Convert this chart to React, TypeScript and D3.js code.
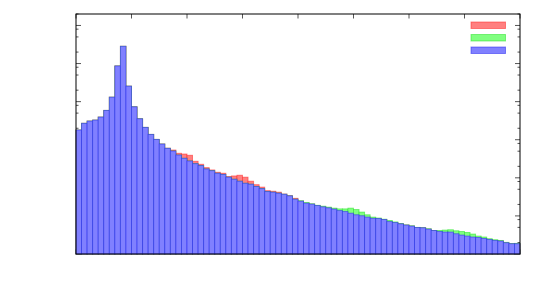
import React, { useEffect, useRef } from "react";
import * as d3 from "d3";

// 80 bins, three overlaid histograms (blue drawn on top)
const blueCounts = [
  1800, 2700, 3090, 3280, 3930, 5890, 13100, 86500, 284000, 25500,
  7310, 3550, 2110, 1380, 1020, 771, 595, 506, 397, 326,
  277, 235, 209, 171, 154, 132, 123, 104, 92, 81.5,
  72, 68, 59, 52, 43.5, 42, 39.5, 37, 33.6, 27.5,
  24.4, 21.6, 20.4, 18.7, 17.3, 16.3, 15.1, 13.8, 13, 11.8,
  10.7, 10.1, 9.3, 8.65, 8.55, 8.05, 7.1, 6.7, 6.2, 5.75,
  5.4, 4.97, 4.88, 4.5, 4.15, 3.9, 3.77, 3.77, 3.4, 3.14,
  2.96, 2.79, 2.72, 2.56, 2.41, 2.27, 2.19, 1.98, 1.86, 1.86,
];

const redCounts = [
  1800, 2700, 3090, 3280, 3930, 5890, 13100, 86500, 284000, 25500,
  7310, 3550, 2110, 1380, 1020, 771, 600, 537, 441, 422,
  391, 272, 227, 185, 161, 140, 132, 108, 112, 117,
  104, 81.5, 66, 57, 46, 44.5, 42, 37.5, 34, 29,
  24.4, 21.6, 20.4, 18.7, 17.3, 16.3, 15.1, 13.8, 13, 11.8,
  10.7, 10.1, 9.3, 8.65, 8.55, 8.05, 7.1, 6.7, 6.2, 5.75,
  5.4, 4.97, 4.88, 4.5, 4.15, 3.9, 3.77, 3.77, 3.4, 3.14,
  2.96, 2.79, 2.72, 2.56, 2.41, 2.27, 2.19, 1.98, 1.86, 1.86,
];

const greenCounts = [
  1800, 2700, 3090, 3280, 3930, 5890, 13100, 86500, 284000, 25500,
  7310, 3550, 2110, 1380, 1020, 771, 595, 506, 397, 326,
  277, 235, 209, 171, 154, 132, 123, 104, 92, 81.5,
  72, 68, 59, 52, 43.5, 42, 39.5, 37, 33.6, 27.5,
  25, 22.5, 20.8, 19, 18, 17, 16, 15.3, 15.3, 16,
  14.7, 12.6, 10.7, 9.3, 8.8, 8.2, 7.6, 6.95, 6.3, 5.8,
  5.5, 5.0, 4.9, 4.6, 4.15, 4.15, 4.25, 4.33, 4.07, 3.9,
  3.68, 3.34, 2.96, 2.79, 2.52, 2.37, 2.27, 2.02, 1.88, 1.9,
];

const series = [
  { name: "red", values: redCounts, fill: "#ff8080", stroke: "#ff2020" },
  { name: "green", values: greenCounts, fill: "#80ff80", stroke: "#20e020" },
  { name: "blue", values: blueCounts, fill: "#8080ff", stroke: "#2020f0" },
];

const xTicks = [0, 10, 20, 30, 40, 50, 60, 70, 80];

function App() {
  const ref = useRef<SVGSVGElement | null>(null);

  useEffect(() => {
    const svg = d3.select(ref.current);
    svg.selectAll("*").remove();

    const margin = { top: 14, right: 23, bottom: 41, left: 76 };
    const width = 543 - margin.left - margin.right;
    const height = 295 - margin.top - margin.bottom;

    const g = svg
      .append("g")
      .attr("transform", `translate(${margin.left},${margin.top})`);

    const x = d3.scaleLinear().domain([0, 80]).range([0, width]);
    const y = d3.scaleLog().domain([1, 2e6]).range([height, 0]);

    // y ticks: decades plus 2, 5, 8
    const majors = d3.range(0, 7).map((p) => Math.pow(10, p));
    const minors: number[] = [];
    majors.forEach((m) => {
      [2, 5, 8].forEach((k) => {
        if (m * k <= 2e6) minors.push(m * k);
      });
    });

    const tickColor = "#555";
    const ticks = g.append("g");
    majors.forEach((v) => {
      ticks.append("line").attr("x1", 0).attr("x2", 5).attr("y1", y(v)).attr("y2", y(v))
        .attr("stroke", tickColor);
      ticks.append("line").attr("x1", width).attr("x2", width - 5).attr("y1", y(v)).attr("y2", y(v))
        .attr("stroke", tickColor);
    });
    minors.forEach((v) => {
      ticks.append("line").attr("x1", 0).attr("x2", 2.5).attr("y1", y(v)).attr("y2", y(v))
        .attr("stroke", tickColor);
      ticks.append("line").attr("x1", width).attr("x2", width - 2.5).attr("y1", y(v)).attr("y2", y(v))
        .attr("stroke", tickColor);
    });
    xTicks.forEach((t) => {
      ticks.append("line").attr("x1", x(t)).attr("x2", x(t)).attr("y1", 0).attr("y2", 4.5)
        .attr("stroke", tickColor);
      ticks.append("line").attr("x1", x(t)).attr("x2", x(t)).attr("y1", height).attr("y2", height - 4.5)
        .attr("stroke", tickColor);
    });

    series.forEach((s) => {
      g.append("g")
        .selectAll("rect")
        .data(s.values)
        .enter()
        .append("rect")
        .attr("x", (d, i) => x(i))
        .attr("y", (d) => y(d))
        .attr("width", (d, i) => x(i + 1) - x(i))
        .attr("height", (d) => y(1) - y(d))
        .attr("fill", s.fill)
        .attr("stroke", s.stroke)
        .attr("stroke-opacity", 0.55)
        .attr("stroke-width", 0.9);
    });

    // frame
    g.append("rect")
      .attr("x", 0)
      .attr("y", 0)
      .attr("width", width)
      .attr("height", height)
      .attr("fill", "none")
      .attr("stroke", "#000")
      .attr("stroke-width", 1);

    // legend samples (no labels)
    const legend = svg.append("g").attr("transform", "translate(471,22)");
    series.forEach((s, i) => {
      legend
        .append("rect")
        .attr("x", 0)
        .attr("y", i * 12.5)
        .attr("width", 34.5)
        .attr("height", 6.5)
        .attr("fill", s.fill)
        .attr("stroke", s.stroke)
        .attr("stroke-opacity", 0.5);
    });
  }, []);

  return (
    <svg
      ref={ref}
      width={543}
      height={295}
      style={{ position: "absolute", left: 0, top: 0, background: "#fff" }}
    />
  );
}

export default App;
